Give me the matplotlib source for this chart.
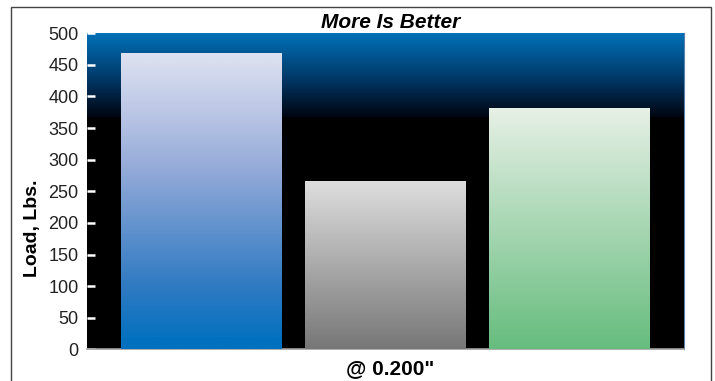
import numpy as np
import matplotlib
matplotlib.use("Agg")
import matplotlib.pyplot as plt
from matplotlib.colors import LinearSegmentedColormap
from matplotlib.patches import Rectangle

# Data
series = ["Product A", "Product B", "Product C"]
loads = [469, 266, 382]
y_ticks = [0, 50, 100, 150, 200, 250, 300, 350, 400, 450, 500]
title_text = "More Is Better"
x_label = "@ 0.200\""
y_label = "Load, Lbs."

# Styling
bar_gradients = [
    ["#0070bf", "#2f7ac2", "#6192cd", "#93aad8", "#bcc7e6", "#dee2f1"],
    ["#777777", "#dedede"],
    ["#66bd7e", "#e7f0e6"],
]
bar_solid_base = [0.04, 0.0, 0.0]  # fraction of bar height kept as a flat base colour

plt.rcParams["font.family"] = ["Liberation Sans", "DejaVu Sans"]

fig = plt.figure(figsize=(7.15, 3.81), dpi=100)
ax = fig.add_axes([0.1217, 0.0832, 0.8350, 0.8294])

xmin, xmax = -0.625, 2.625
ymin, ymax = 0, 500
ax.set_xlim(xmin, xmax)
ax.set_ylim(ymin, ymax)

# Plot background: blue at the top fading to black
ys = np.linspace(ymin, ymax, 600)
bg_cmap = LinearSegmentedColormap.from_list(
    "bg", [(0.0, "#000000"), (0.73, "#000000"), (0.735, "#000612"),
           (0.86, "#003a6a"), (1.0, "#0071b8")])
bg = bg_cmap((ys - ymin) / (ymax - ymin))[:, None, :3]
ax.imshow(bg, extent=(xmin, xmax, ymin, ymax), origin="lower",
          aspect="auto", zorder=0, interpolation="bilinear")

# Bars filled with vertical gradients
x = np.arange(len(loads))
width = 0.875
bars = ax.bar(x, loads, width=width, color="none", edgecolor="none", zorder=2)
for bar, val, stops, base in zip(bars, loads, bar_gradients, bar_solid_base):
    cmap = LinearSegmentedColormap.from_list("g", stops)
    t = np.linspace(0, 1, 400)
    cols = cmap(t)[:, :3]
    if base > 0:
        cols[t < base] = matplotlib.colors.to_rgb(stops[0])
        inner = t >= base
        cols[inner] = cmap(np.clip((t[inner] - base) / (1 - base) * 0.97 + 0.03, 0, 1))[:, :3]
    x0 = bar.get_x()
    im = ax.imshow(cols[:, None, :], extent=(x0, x0 + bar.get_width(), 0, val),
                   origin="lower", aspect="auto", zorder=3, interpolation="bilinear")
    im.set_clip_path(bar)

ax.set_xlim(xmin, xmax)
ax.set_ylim(ymin, ymax)

# Axes styling
for side in ["top", "left"]:
    ax.spines[side].set_visible(False)
ax.spines["bottom"].set_color("#a0a0a0")
ax.spines["bottom"].set_linewidth(1.2)
ax.spines["right"].set_color("#5a7fa8")
ax.spines["right"].set_linewidth(0.8)

ax.set_xticks([])
ax.set_yticks(y_ticks)
ax.set_yticklabels([str(v) for v in y_ticks], fontsize=13, color="#222222")
ax.tick_params(axis="y", direction="in", length=6, width=1.8, color="white", pad=6)
for tl in ax.yaxis.get_ticklines():
    tl.set_zorder(5)

# Texts
fig.text(391 / 715, 1 - 28 / 381, title_text, ha="center", va="baseline",
         fontsize=15, fontweight="bold", fontstyle="italic")
fig.text(390 / 715, 1 - 374 / 381, x_label, ha="center", va="baseline",
         fontsize=15, fontweight="bold")
fig.text(33 / 715, 1 - 228 / 381, y_label, ha="center", va="center",
         rotation=90, fontsize=14, fontweight="bold")

# Outer frame
frame = Rectangle((11 / 715, -0.05), 700 / 715, 1.05 - 7 / 381,
                  transform=fig.transFigure, fill=False,
                  edgecolor="#444444", linewidth=1.0)
fig.patches.append(frame)

fig.savefig("out.png", dpi=100, facecolor="white")
